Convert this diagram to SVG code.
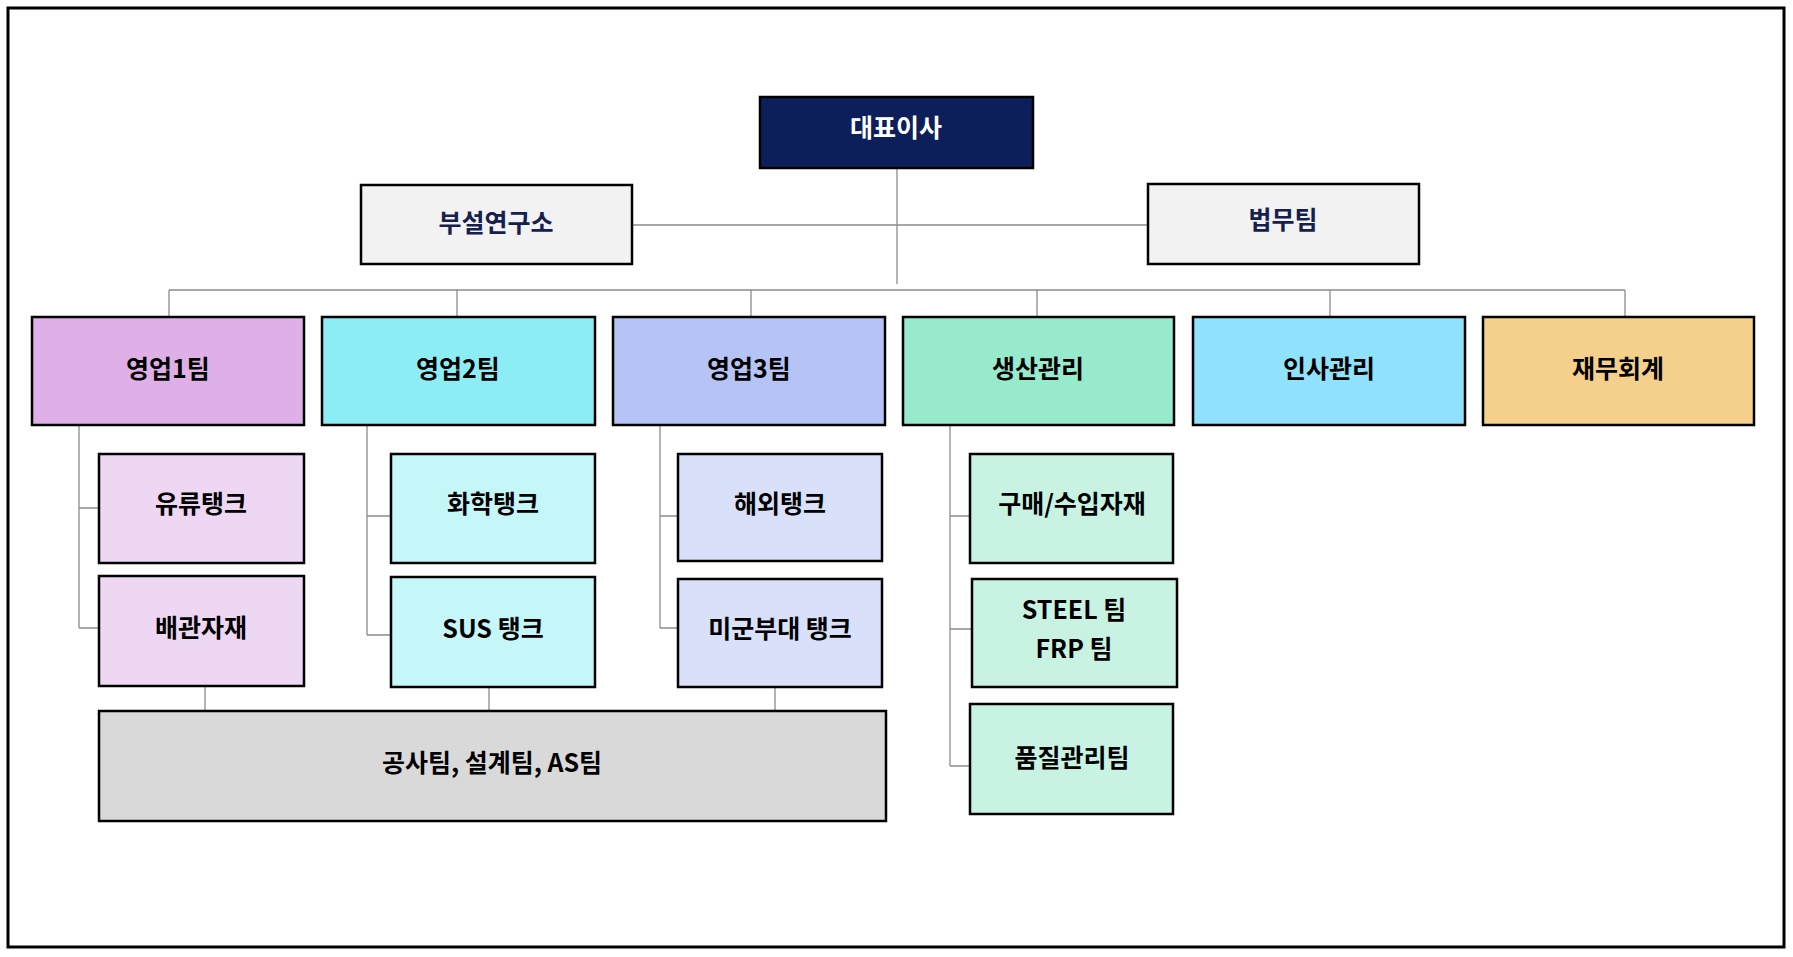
<svg xmlns="http://www.w3.org/2000/svg" width="1793" height="957" viewBox="0 0 1793 957">
<style>
.b{stroke:#000;stroke-width:2.5}
.t{font-family:"Noto Sans CJK KR","Liberation Sans",sans-serif;font-weight:bold;font-size:25px;fill:#000;text-anchor:middle;dominant-baseline:central}
.c{stroke:#8c8c8c;stroke-width:1.3;fill:none}
</style>
<rect x="0" y="0" width="1793" height="957" fill="#fff"/>
<rect x="8" y="8" width="1776" height="939" fill="none" stroke="#000" stroke-width="3"/>
<g id="connectors" class="c">
<path d="M897 168V284M632 225H1148M169 290H1625M169 290V317M457 290V317M751 290V317M1037 290V317M1330 290V317M1625 290V317"/>
<path d="M79 425V628M79 508H99M79 628H99"/>
<path d="M367 425V635M367 516H391M367 635H391"/>
<path d="M660 425V628M660 516H678M660 628H678"/>
<path d="M950 425V766M950 516H970M950 629H972M950 766H970"/>
<path d="M205 686V711M489 687V711M775 687V711"/>
</g>
<g id="ceo"><rect class="b" x="760" y="97" width="273" height="71" fill="#0C1F5A"/><text class="t" x="896" y="126" style="fill:#fff">대표이사</text></g>
<g id="lab"><rect class="b" x="361" y="185" width="271" height="79" fill="#F2F2F2"/><text class="t" x="496" y="221" style="fill:#16204F">부설연구소</text></g>
<g id="legal"><rect class="b" x="1148" y="184" width="271" height="80" fill="#F2F2F2"/><text class="t" x="1283" y="218" style="fill:#16204F">법무팀</text></g>
<g id="sales1"><rect class="b" x="32" y="317" width="272" height="108" fill="#DFB0E8"/><text class="t" x="168" y="367">영업1팀</text></g>
<g id="sales2"><rect class="b" x="322" y="317" width="273" height="108" fill="#8DEDF5"/><text class="t" x="458" y="367">영업2팀</text></g>
<g id="sales3"><rect class="b" x="613" y="317" width="272" height="108" fill="#B5C3F5"/><text class="t" x="749" y="367">영업3팀</text></g>
<g id="prod"><rect class="b" x="903" y="317" width="271" height="108" fill="#98EACC"/><text class="t" x="1038" y="367">생산관리</text></g>
<g id="hr"><rect class="b" x="1193" y="317" width="272" height="108" fill="#8FE1FC"/><text class="t" x="1329" y="367">인사관리</text></g>
<g id="fin"><rect class="b" x="1483" y="317" width="271" height="108" fill="#F5D08C"/><text class="t" x="1618" y="367">재무회계</text></g>
<g id="oil"><rect class="b" x="99" y="454" width="205" height="109" fill="#EED7F3"/><text class="t" x="201" y="502">유류탱크</text></g>
<g id="pipe"><rect class="b" x="99" y="576" width="205" height="110" fill="#EED7F3"/><text class="t" x="201" y="626">배관자재</text></g>
<g id="chem"><rect class="b" x="391" y="454" width="204" height="109" fill="#C5F6F8"/><text class="t" x="493" y="502">화학탱크</text></g>
<g id="sus"><rect class="b" x="391" y="577" width="204" height="110" fill="#C5F6F8"/><text class="t" x="493" y="627">SUS 탱크</text></g>
<g id="overseas"><rect class="b" x="678" y="454" width="204" height="107" fill="#D9E0FA"/><text class="t" x="780" y="502">해외탱크</text></g>
<g id="usfk"><rect class="b" x="678" y="579" width="204" height="108" fill="#D9E0FA"/><text class="t" x="780" y="627">미군부대 탱크</text></g>
<g id="purchase"><rect class="b" x="970" y="454" width="203" height="109" fill="#C8F2E1"/><text class="t" x="1072" y="502">구매/수입자재</text></g>
<g id="steel"><rect class="b" x="972" y="579" width="205" height="108" fill="#C8F2E1"/><text class="t" x="1074" y="608">STEEL 팀</text><text class="t" x="1074" y="647">FRP 팀</text></g>
<g id="qc"><rect class="b" x="970" y="704" width="203" height="110" fill="#C8F2E1"/><text class="t" x="1072" y="756">품질관리팀</text></g>
<g id="construct"><rect class="b" x="99" y="711" width="787" height="110" fill="#D9D9D9"/><text class="t" x="492" y="761">공사팀, 설계팀, AS팀</text></g>
</svg>
